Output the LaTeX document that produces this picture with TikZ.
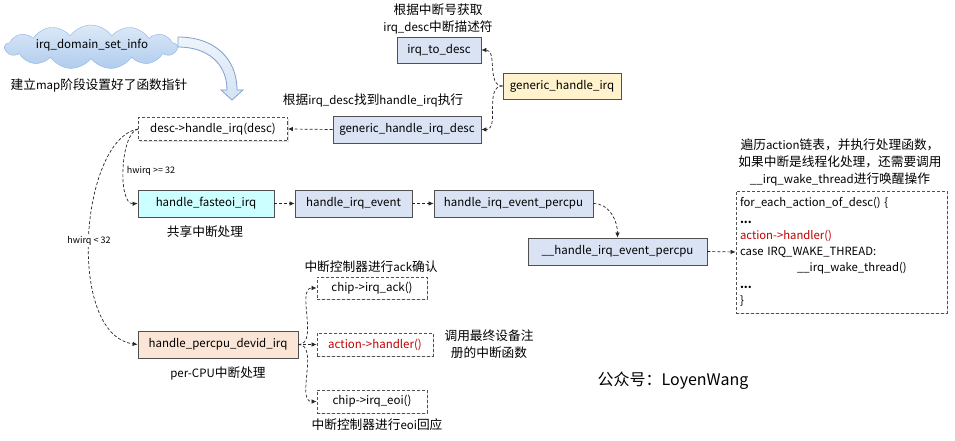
\documentclass[tikz,border=0pt]{standalone}
\usepackage{fontspec}
\setmainfont{Noto Sans CJK SC}
\usetikzlibrary{shapes.symbols,arrows.meta,shadows}
\definecolor{lav}{HTML}{DAE3F3}
\definecolor{ylw}{HTML}{FFF2CC}
\definecolor{cyn}{HTML}{CCFFFF}
\definecolor{pch}{HTML}{FBE5D6}
\definecolor{bord}{HTML}{505050}
\definecolor{redtxt}{HTML}{C00000}
\definecolor{cloudline}{HTML}{8DB3E2}
\definecolor{cloudtop}{HTML}{DCE9F7}
\definecolor{cloudbot}{HTML}{B0CCEE}
\definecolor{arrline}{HTML}{7F9FCC}
\newcommand\zh[1]{{\fontsize{12.7}{15}\selectfont #1}}
\begin{document}
\begin{tikzpicture}[x=1pt,y=-1pt,
  font=\fontsize{11.5}{14}\selectfont,
  box/.style={draw=bord,line width=0.8pt,inner sep=0pt,minimum height=27pt,
    drop shadow={shadow xshift=1.2pt,shadow yshift=-1.2pt,opacity=0.25}},
  dbox/.style={box,fill=white,dashed,dash pattern=on 3pt off 2pt},
  lbl/.style={inner sep=0pt},
  small/.style={inner sep=1pt,font=\fontsize{9}{10}\selectfont},
  conn/.style={draw=black!85,line width=0.7pt,dash pattern=on 3pt off 2pt,
    -{Latex[length=5pt,width=4.5pt]}}]
\useasboundingbox (0,0) rectangle (955,441);
\fill[white] (0,0) rectangle (955,441);

% cloud and block arrow
\node[cloud,cloud puffs=13,cloud puff arc=110,aspect=4.2,draw=cloudline,
  top color=cloudtop,bottom color=cloudbot,minimum width=172pt,minimum height=44pt,
  inner sep=0pt] (cloud) at (91,47) {};
\node[lbl] (cloudtxt) at (92,45) {irq\_domain\_set\_info};
\path[draw=arrline,line width=0.8pt,top color=white!50!cloudtop,bottom color=cloudtop!80!cloudbot]
  (178,37) .. controls (214,37) and (237,58) .. (237,90)
  -- (243,90) -- (232,100) -- (221,90) -- (227,90)
  .. controls (227,64) and (208,47) .. (178,47) -- cycle;
\node[lbl] (lmap) at (99,85) {\zh{建立}map\zh{阶段设置好了函数指针}};

% top boxes
\node[lbl] (l1a) at (438,10) {\zh{根据中断号获取}};
\node[lbl] (l1b) at (438,27) {irq\_desc\zh{中断描述符}};
\node[box,fill=lav,minimum width=84pt,minimum height=26pt] (itd) at (439,50) {irq\_to\_desc};
\node[box,fill=ylw,minimum width=118pt,minimum height=26pt] (ghi) at (562,86) {generic\_handle\_irq};
\node[lbl] (l2) at (373,100) {\zh{根据}irq\_desc\zh{找到}handle\_irq\zh{执行}};
\node[box,fill=lav,minimum width=148pt] (ghid) at (407,129.5) {generic\_handle\_irq\_desc};
\node[dbox,minimum width=149pt,minimum height=23pt] (desc) at (213,129) {desc->handle\_irq(desc)};

% middle row
\node[box,fill=cyn,minimum width=136pt] (fast) at (206,203.5) {handle\_fasteoi\_irq};
\node[lbl] (lshare) at (205,232) {\zh{共享中断处理}};
\node[box,fill=lav,minimum width=117pt] (hie) at (353.5,203.5) {handle\_irq\_event};
\node[box,fill=lav,minimum width=159pt] (hiep) at (513.5,203.5) {handle\_irq\_event\_percpu};
\node[box,fill=lav,minimum width=179pt] (uhiep) at (617.5,251.5) {\_\_handle\_irq\_event\_percpu};

% code box
\node[lbl] (lc1) at (840,145) {\zh{遍历}action\zh{链表，并执行处理函数，}};
\node[lbl] (lc2) at (840,162) {\zh{如果中断是线程化处理，还需要调用}};
\node[lbl] (lc3) at (840,179) {\_\_irq\_wake\_thread\zh{进行唤醒操作}};
\node[dbox,minimum width=211pt,minimum height=122pt,text width=203pt,align=left,
  font=\fontsize{11.3}{16.3}\selectfont] (code) at (841.5,252)
  {for\_each\_action\_of\_desc() \{\\
   \textbf{...}\\
   \textcolor{redtxt}{action->handler()}\\
   case IRQ\_WAKE\_THREAD:\\
   \hspace*{57pt}\_\_irq\_wake\_thread()\\
   \textbf{...}\\
   \}};

% bottom part
\node[box,fill=pch,minimum width=160pt] (pdi) at (218,344.5) {handle\_percpu\_devid\_irq};
\node[lbl] (lpcpu) at (218,373) {per-CPU\zh{中断处理}};
\node[lbl] (lack) at (371,267) {\zh{中断控制器进行}ack\zh{确认}};
\node[dbox,minimum width=110pt,minimum height=22pt] (ack) at (372,288) {chip->irq\_ack()};
\node[dbox,minimum width=116pt,minimum height=23pt,text=redtxt] (act) at (375,344.5) {action->handler()};
\node[dbox,minimum width=110pt,minimum height=23pt] (eoi) at (372,401.5) {chip->irq\_eoi()};
\node[lbl] (lcall1) at (489,336) {\zh{调用最终设备注}};
\node[lbl] (lcall2) at (489,353) {\zh{册的中断函数}};
\node[lbl] (leoi) at (377,425) {\zh{中断控制器进行}eoi\zh{回应}};
\node[lbl,font=\fontsize{16}{18}\selectfont] (wm) at (673,381) {公众号：LoyenWang};

% connectors
\draw[conn] (ghi.west) to[out=180,in=0] (itd.east);
\draw[conn] (ghi.west) to[out=180,in=0] (ghid.east);
\draw[conn] (ghid.west) -- (desc.east);
\draw[conn] (desc.west) .. controls +(-18,4) and +(-20,1) .. (fast.west);
\draw[conn] (desc.west) .. controls +(-58,10) and +(-72,-10) .. (pdi.west);
\node[small] (h1) at (151,171) {hwirq >= 32};
\node[small,fill=white] (h2) at (89,241) {hwirq < 32};
\draw[conn] (fast.east) -- (hie.west);
\draw[conn] (hie.east) -- (hiep.west);
\draw[conn] (hiep.east) to[out=0,in=90] (uhiep.north);
\draw[conn] (uhiep.east) -- (code.west);
\draw[conn] (pdi.east) to[out=0,in=180,looseness=0.9] (ack.west);
\draw[conn] (pdi.east) -- (act.west);
\draw[conn] (pdi.east) to[out=0,in=180,looseness=0.9] (eoi.west);
\end{tikzpicture}
\end{document}
